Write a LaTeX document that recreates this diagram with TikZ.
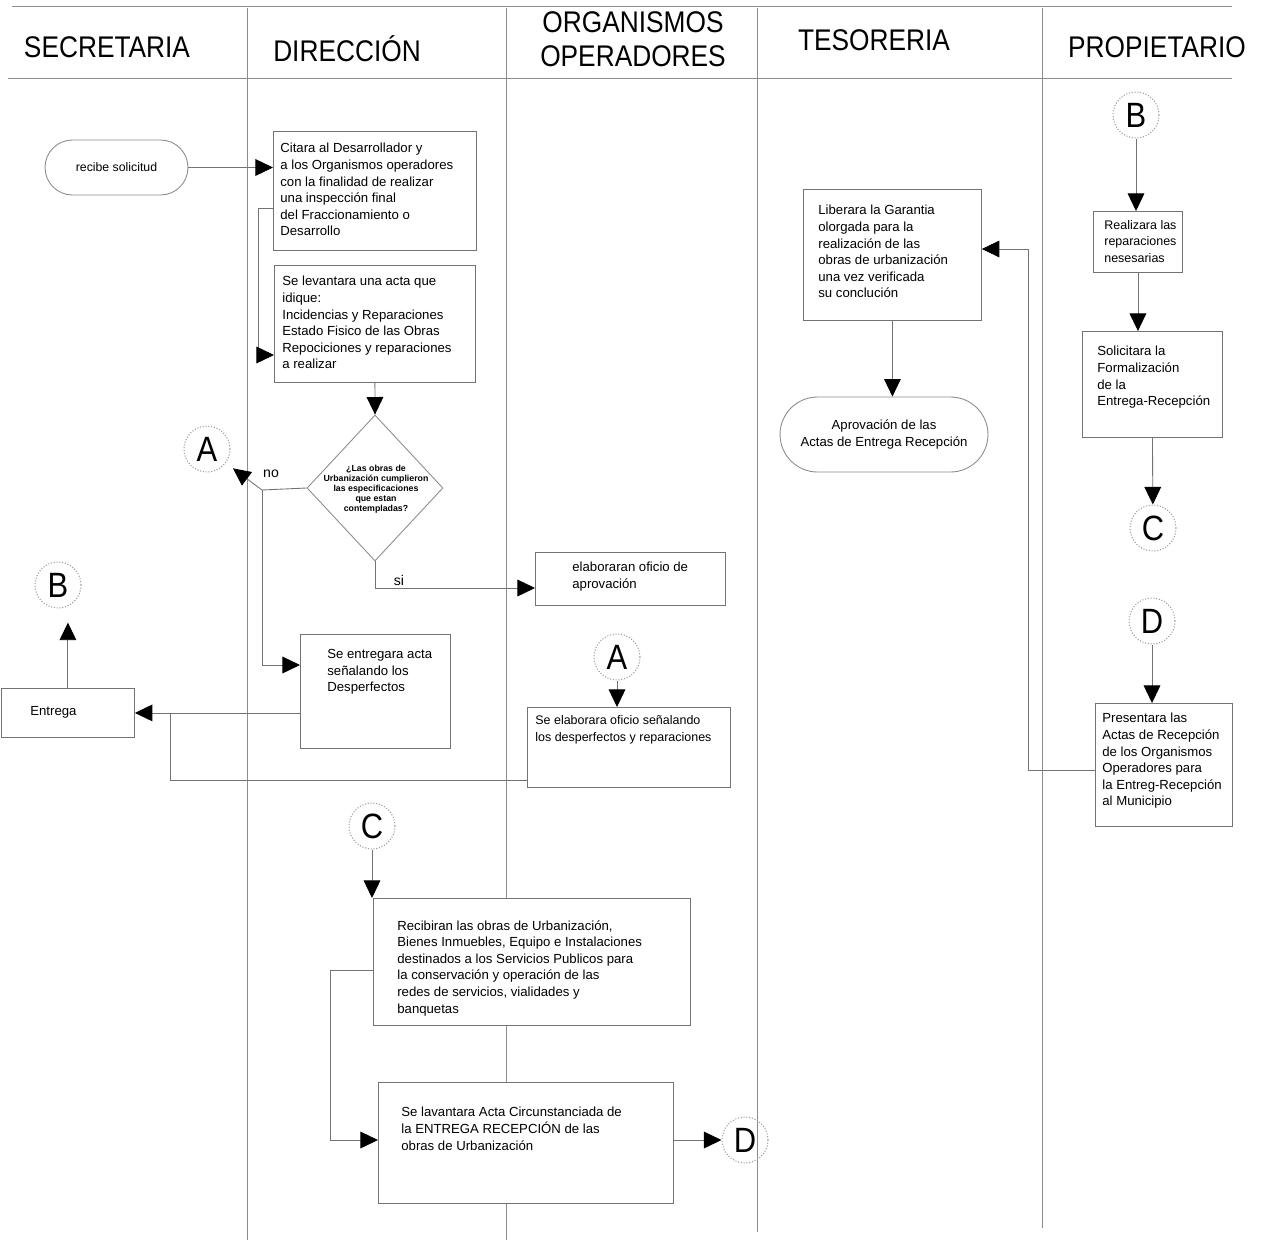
\documentclass[tikz,border=0pt]{standalone}
\usepackage{fontspec}
\setmainfont{Liberation Sans}
\newfontfamily\hdrfont[FakeStretch=0.88]{Liberation Sans}
\usetikzlibrary{arrows.meta,shapes.geometric,calc}
\begin{document}
\begin{tikzpicture}[x=0.02cm,y=-0.02cm,
  lane/.style={draw=black!45,line width=0.5pt},
  box/.style={draw=black!55,fill=white,line width=0.5pt,inner sep=0pt,anchor=north west},
  stad/.style={draw=black!45,fill=white,line width=0.5pt,inner sep=0pt,font={\fontsize{7.5}{9.45}\selectfont},align=center},
  txt/.style={inner sep=0pt,align=left,anchor=north west,font={\fontsize{7.5}{9.45}\selectfont}},
  hdr/.style={inner sep=0pt,align=center,font={\hdrfont\fontsize{17}{19.5}\selectfont}},
  conn/.style={circle,draw=black!40,densely dotted,line width=0.6pt,minimum size=0.92cm,inner sep=0pt,font={\hdrfont\fontsize{20}{20}\selectfont}},
  lbl/.style={inner sep=0pt,font={\fontsize{8}{9}\selectfont}},
  link/.style={draw=black!55,line width=0.5pt},
  arr/.style={link,-{Triangle[length=10pt,width=9.5pt,color=black]}}
]
\useasboundingbox (0,0) rectangle (1266,1240);
% swimlane frame
\draw[lane] (12,6) -- (1232,6);
\draw[lane] (8,78) -- (1232,78);
\draw[lane] (247,8) -- (247,1240);
\draw[lane] (506,8) -- (506,1240);
\draw[lane] (757,8) -- (757,1232);
\draw[lane] (1042,8) -- (1042,1228);
% headers
\node[hdr] (h1) at (107,47) {SECRETARIA};
\node[hdr] (h2) at (347,49) {DIRECCIÓN};
\node[hdr] (h3) at (633,39) {ORGANISMOS\\OPERADORES};
\node[hdr] (h4) at (874,40) {TESORERIA};
\node[hdr] (h5) at (1157,47) {PROPIETARIO};

% SECRETARIA
\node[stad,minimum width=2.86cm,minimum height=1.1cm,rounded corners=0.55cm,font={\fontsize{7}{9}\selectfont}] (rec) at (116.5,167.5) {recibe solicitud};
\node[box,minimum width=2.66cm,minimum height=0.98cm] (entg) at (1,688) {};
\node[txt,anchor=west] (entgt) at (30,712.5) {Entrega};
\node[conn] (B1) at (58,585) {B};

% DIRECCION
\node[box,minimum width=4.06cm,minimum height=2.38cm] (b1) at (273,131) {};
\node[txt] (b1t) at ($(b1.north west)+(7,12)$) {Citara al Desarrollador y\\a los Organismos operadores\\con la finalidad de realizar\\una inspección final\\del Fraccionamiento o\\Desarrollo};
\node[box,minimum width=4.02cm,minimum height=2.34cm] (b2) at (274,265) {};
\node[txt] (b2t) at ($(b2.north west)+(8,11)$) {Se levantara una acta que\\idique:\\Incidencias y Reparaciones\\Estado Fisico de las Obras\\Repociciones y reparaciones\\a realizar};
\node[diamond,draw=black!45,fill=white,line width=0.5pt,inner sep=0pt,minimum width=2.72cm,minimum height=2.92cm] (dia) at (375,488) {};
\node[inner sep=0pt,align=center,font={\bfseries\fontsize{5}{5.7}\selectfont}] (diat) at (376,489) {¿Las obras de\\Urbanización cumplieron\\las especificaciones\\que estan\\contempladas?};
\node[conn] (A1) at (207,449) {A};
\node[lbl] (no) at (271,474) {no};
\node[lbl] (si) at (399,580) {si};
\node[box,minimum width=3.0cm,minimum height=2.28cm] (ent) at (300,634) {};
\node[txt] (entt) at ($(ent.north west)+(27,15)$) {Se entregara acta\\señalando los\\Desperfectos};
\node[conn] (C1) at (372,826) {C};
\node[box,minimum width=6.34cm,minimum height=2.54cm] (rc) at (373,898) {};
\node[txt] (rct) at ($(rc.north west)+(24,22)$) {Recibiran las obras de Urbanización,\\Bienes Inmuebles, Equipo e Instalaciones\\destinados a los Servicios Publicos para\\la conservación y operación de las\\redes de servicios, vialidades y\\banquetas};
\node[box,minimum width=5.9cm,minimum height=2.42cm] (lav) at (378,1082) {};
\node[txt] (lavt) at ($(lav.north west)+(23,25)$) {Se lavantara Acta Circunstanciada de\\la ENTREGA RECEPCIÓN de las\\obras de Urbanización};
\node[conn] (D1) at (745,1140) {D};

% ORGANISMOS OPERADORES
\node[box,minimum width=3.8cm,minimum height=1.06cm] (elab) at (535,552) {};
\node[txt] (elabt) at ($(elab.north west)+(37,10)$) {elaboraran oficio de\\aprovación};
\node[conn] (A2) at (617,657) {A};
\node[box,minimum width=4.06cm,minimum height=1.6cm] (sel) at (527,707) {};
\node[txt,font={\fontsize{7.1}{10}\selectfont}] (selt) at ($(sel.north west)+(8,8)$) {Se elaborara oficio señalando\\los desperfectos y reparaciones};

% TESORERIA
\node[box,minimum width=3.56cm,minimum height=2.62cm] (lib) at (803,189) {};
\node[txt] (libt) at ($(lib.north west)+(15,16)$) {Liberara la Garantia\\olorgada para la\\realización de las\\obras de urbanización\\una vez verificada\\su conclución};
\node[stad,minimum width=4.16cm,minimum height=1.5cm,rounded corners=0.75cm] (apr) at (884,434.5) {Aprovación de las\\Actas de Entrega Recepción};

% PROPIETARIO
\node[conn] (B2) at (1136,115) {B};
\node[box,minimum width=1.78cm,minimum height=1.22cm] (rea) at (1093,211) {};
\node[txt,font={\fontsize{7.1}{9.45}\selectfont}] (reat) at ($(rea.north west)+(11,9)$) {Realizara las\\reparaciones\\nesesarias};
\node[box,minimum width=2.8cm,minimum height=2.12cm] (sol) at (1082,331) {};
\node[txt] (solt) at ($(sol.north west)+(15,15)$) {Solicitara la\\Formalización\\de la\\Entrega-Recepción};
\node[conn] (C2) at (1153,528) {C};
\node[conn] (D2) at (1152,621) {D};
\node[box,minimum width=2.74cm,minimum height=2.46cm] (pre) at (1095,703) {};
\node[txt] (pret) at ($(pre.north west)+(7,10)$) {Presentara las\\Actas de Recepción\\de los Organismos\\Operadores para\\la Entreg-Recepción\\al Municipio};

% helper coordinates
\coordinate (k1) at (258,208);
\coordinate (nj) at (262,490);
\coordinate (k2) at (330,970);
\coordinate (k3) at (1028,249);
\coordinate (k4) at (170,780);

% connectors
\draw[arr] (rec.east) -- (rec -| b1.west);
\draw[arr] (b1.west |- k1) -- (k1) |- (b2.west |- 0,355);
\draw[arr] (b2.south) -- (dia.north);
\draw[link] (dia.west) -- (nj);
\draw[arr,shorten >=5pt] (nj) -- (A1);
\draw[arr] (nj) |- (ent.west |- 0,665);
\draw[arr] (dia.south) |- (elab.west |- 0,588);
\draw[arr] (A2) -- (A2 |- sel.north);
\draw[arr] (ent.west |- entg.east) -- (entg.east);
\draw[link] (sel.west |- k4) -- (k4) -- (k4 |- entg.east);
\draw[arr,shorten >=8pt] (entg.north) -- (entg.north |- B1.south);
\draw[arr] (C1) -- (C1 |- rc.north);
\draw[arr] (rc.west |- k2) -- (k2) |- (lav.west |- 0,1140);
\draw[arr] (lav.east |- D1) -- (D1);
\draw[arr] (lib.south) -- (lib.south |- apr.north);
\draw[arr] (pre.west |- 0,770) -| (k3) -- (lib.east |- k3);
\draw[arr] (B2) -- (B2 |- rea.north);
\draw[arr] (rea.south) -- (rea.south |- sol.north);
\draw[arr] (sol.south) -- (C2);
\draw[arr] (D2) -- (D2 |- pre.north);
\end{tikzpicture}
\end{document}
